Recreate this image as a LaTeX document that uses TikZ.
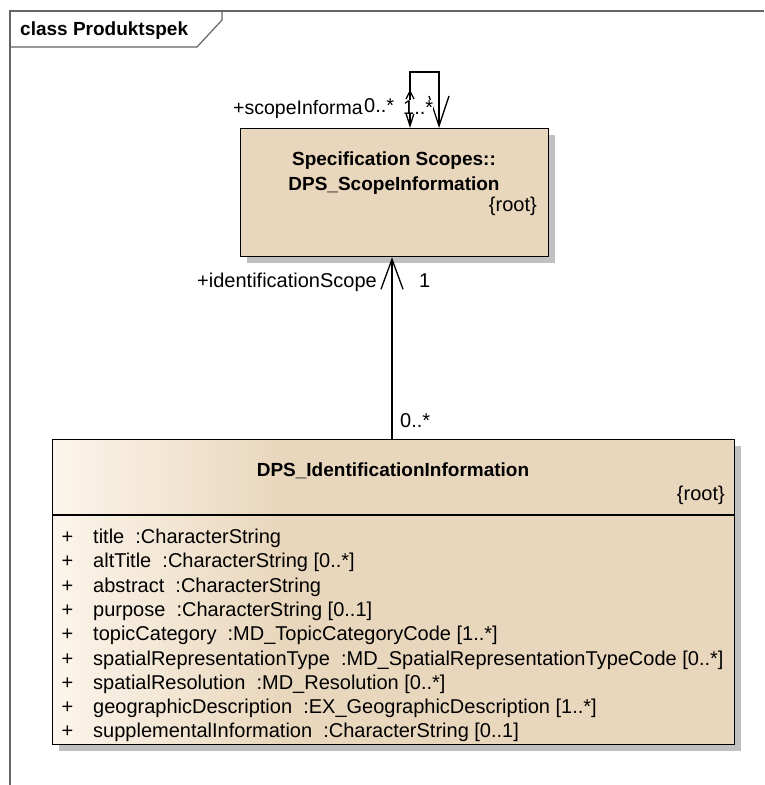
\documentclass[tikz,border=0pt]{standalone}
\usepackage{fontspec}
\setmainfont{Liberation Sans}
\usetikzlibrary{arrows.meta,shadows}
\definecolor{umltan}{RGB}{233,215,189}
\definecolor{umllight}{RGB}{252,245,235}
\definecolor{shadowgray}{RGB}{192,192,192}
\definecolor{framegray}{RGB}{100,100,100}
\begin{document}
\begin{tikzpicture}[x=1pt,y=-1pt,
  txt/.style={font=\fontsize{20}{24}\selectfont, inner sep=0pt},
  boldtxt/.style={font=\fontsize{19}{23}\selectfont\bfseries, inner sep=0pt},
  lbl/.style={font=\fontsize{20}{24}\selectfont, inner sep=0pt, fill=white},
  classbox/.style={draw=black, line width=1.3pt, fill=umltan, inner sep=0pt, anchor=north west,
    drop shadow={shadow xshift=6pt, shadow yshift=-6pt, fill=shadowgray, opacity=1}},
  assoc/.style={line width=1.3pt},
  bigtip/.style={-{Straight Barb[length=30pt,width=22pt,line width=1.3pt]}},
  frameline/.style={draw=framegray, line width=1.2pt}]
\useasboundingbox (0,0) rectangle (764,785);
% frame
\draw[frameline] (10,785) -- (10,11) -- (764,11);
\draw[frameline] (10,47) -- (197,47) -- (222,20) -- (222,11);
\node[boldtxt, anchor=base west] (frametitle) at (20,35) {class Produktspek};

% class: DPS_ScopeInformation
\node[classbox, minimum width=308pt, minimum height=128pt] (scope) at (240,128) {};
\node[boldtxt, anchor=base] (scopeA) at (394,165) {Specification Scopes::};
\node[boldtxt, anchor=base] (scopeB) at (394,190) {DPS\_ScopeInformation};
\node[txt, anchor=base east] (scopeR) at (537,211) {\{root\}};

% class: DPS_IdentificationInformation
\node[classbox, minimum width=682pt, minimum height=305pt,
  path picture={
    \foreach \k in {0,...,45}{
      \pgfmathtruncatemacro\p{100-\k*100/45}
      \fill[umllight!\p!umltan] ([xshift=\k*5pt]path picture bounding box.north west)
        rectangle ([xshift=\k*5pt+5.4pt]path picture bounding box.south west);
    }}]
  (idinfo) at (52,439) {};
\draw[line width=1.3pt] (idinfo.west |- 0,515) -- (idinfo.east |- 0,515);
\node[boldtxt, anchor=base] (idA) at (393,476) {DPS\_IdentificationInformation};
\node[txt, anchor=base east] (idR) at (725,500) {\{root\}};
\foreach \a [count=\i from 0] in {
  {title\ \ :CharacterString},
  {altTitle\ \ :CharacterString [0..*]},
  {abstract\ \ :CharacterString},
  {purpose\ \ :CharacterString [0..1]},
  {topicCategory\ \ :MD\_TopicCategoryCode [1..*]},
  {spatialRepresentationType\ \ :MD\_SpatialRepresentationTypeCode [0..*]},
  {spatialResolution\ \ :MD\_Resolution [0..*]},
  {geographicDescription\ \ :EX\_GeographicDescription [1..*]},
  {supplementalInformation\ \ :CharacterString [0..1]}}{
  \node[txt, anchor=base west] (plus\i) at (61.5,543.5+24.3*\i) {+};
  \node[txt, anchor=base west] (attr\i) at (93,543.5+24.3*\i) {\a};
}

% association idinfo -> scope
\draw[assoc, bigtip] (idinfo.north -| 392,0) -- (scope.south -| 392,0);
\node[txt, anchor=base east] (roleA) at (377,287) {+identificationScope};
\node[txt, anchor=base west] (multA) at (419,287) {1};
\node[txt, anchor=base west] (multB) at (400,427) {0..*};

% self association on scope
\coordinate (loopL) at ([xshift=170pt]scope.north west);
\coordinate (loopR) at ([xshift=199pt]scope.north west);
\draw[assoc, {Straight Barb[length=14pt,width=9pt,line width=1.3pt]}-{Straight Barb[length=30pt,width=20pt,line width=1.3pt]}]
  (loopL) -- ++(0,-56) -| (loopR);
\draw[assoc] ([xshift=-4pt,yshift=29pt]loopL) -- ([yshift=37pt]loopL) -- ([xshift=4pt,yshift=29pt]loopL);
\node[txt, font=\fontsize{19.5}{24}\selectfont, anchor=base west] (roleS) at (233,114) {+scopeInforma};
\node[lbl, anchor=base west] (multS0) at (364,112) {0..*};
\node[lbl, anchor=base west] (multS1) at (403,114) {1..*};
\end{tikzpicture}
\end{document}
